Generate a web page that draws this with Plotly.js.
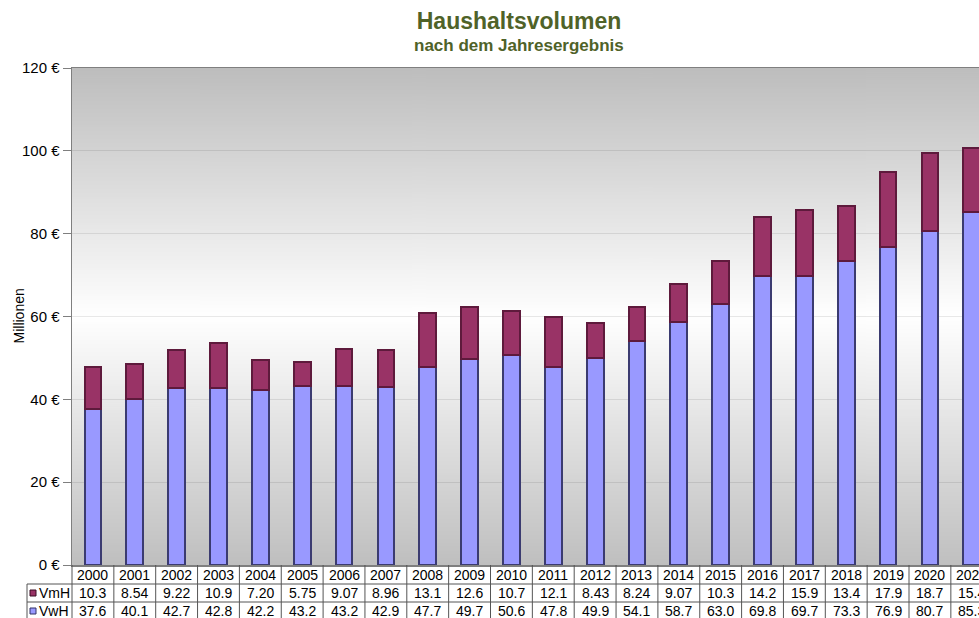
<!DOCTYPE html>
<html>
<head>
<meta charset="utf-8">
<script src="https://cdn.plot.ly/plotly-3.0.1.min.js"></script>
<style>
html,body{margin:0;padding:0;overflow:hidden;background:#fff;}
#chart{width:979px;height:618px;}
</style>
</head>
<body>
<div id="chart"></div>
<script>
// ---- data ----
var years = ['2000','2001','2002','2003','2004','2005','2006','2007','2008','2009','2010',
             '2011','2012','2013','2014','2015','2016','2017','2018','2019','2020','2021'];
var vwh = [37.6,40.1,42.7,42.8,42.2,43.2,43.2,42.9,47.7,49.7,50.6,
           47.8,49.9,54.1,58.7,63.0,69.8,69.7,73.3,76.9,80.7,85.3];
var vmh = [10.3,8.54,9.22,10.9,7.20,5.75,9.07,8.96,13.1,12.6,10.7,
           12.1,8.43,8.24,9.07,10.3,14.2,15.9,13.4,17.9,18.7,15.4];
var seriesNames = ['VmH','VwH'];
var yTicks = [0,20,40,60,80,100,120];

// ---- layout geometry ----
var W = 979, H = 618;
var L = 72, T = 68, B = 53;
var plotW = W - L, plotH = H - T - B;
var pitch = 41.85;
var xr0 = -0.5, xr1 = -0.5 + plotW / pitch;
function px2x(px){ return (px - L) / plotW; }
function py2y(py){ return (H - B - py) / plotH; }
function cat2paper(v){ return (v - xr0) / (xr1 - xr0); }

// background gradient image
var cv = document.createElement('canvas');
cv.width = 4; cv.height = 500;
var ctx = cv.getContext('2d');
var g = ctx.createLinearGradient(0,0,0,500);
g.addColorStop(0,'#bdbdbd');
g.addColorStop(0.5,'#ffffff');
g.addColorStop(1,'#bfbfbf');
ctx.fillStyle = g; ctx.fillRect(0,0,4,500);
var bgURL = cv.toDataURL();

var traces = [
  {type:'bar', name:seriesNames[1], x:years, y:vwh, width:0.4,
   marker:{color:'#9999FF', line:{color:'#3b3b70', width:2}}, hoverinfo:'x+y'},
  {type:'bar', name:seriesNames[0], x:years, y:vmh, width:0.4,
   marker:{color:'#993366', line:{color:'#5e1a3c', width:2}}, hoverinfo:'x+y'}
];

var font = 'Liberation Sans, Arial, sans-serif';
var shapes = [], annotations = [];
var lineCol = '#555555';

// table rows (pixel y)
var rowTop = H - B, r1 = 584, r2 = 602, rBot = 625;
[r1, r2].forEach(function(py){
  shapes.push({type:'line', xref:'paper', yref:'paper', x0:px2x(27), x1:px2x(W+5), y0:py2y(py), y1:py2y(py),
               line:{color:lineCol, width:1}});
});
for (var i = -1; i < years.length; i++) {
  var xp = cat2paper(i + 0.5);
  if (xp > 1.05) continue;
  shapes.push({type:'line', xref:'paper', yref:'paper', x0:xp, x1:xp, y0:py2y(rowTop), y1:py2y(rBot),
               line:{color:lineCol, width:1}});
}
shapes.push({type:'line', xref:'paper', yref:'paper', x0:px2x(27), x1:px2x(27), y0:py2y(r1), y1:py2y(rBot),
             line:{color:lineCol, width:1}});
// legend keys
shapes.push({type:'rect', xref:'paper', yref:'paper', x0:px2x(30), x1:px2x(36), y0:py2y(590), y1:py2y(596),
             fillcolor:'#993366', line:{color:'#3a0f25', width:1}});
shapes.push({type:'rect', xref:'paper', yref:'paper', x0:px2x(30), x1:px2x(36), y0:py2y(608), y1:py2y(614),
             fillcolor:'#9999FF', line:{color:'#333366', width:1}});

var tf = {family:font, size:14, color:'#000'};
var yRow0 = 574.5, yRow1 = 592.5, yRow2 = 610.5;
annotations.push({xref:'paper', yref:'paper', x:px2x(37), y:py2y(yRow1), xanchor:'left', yanchor:'middle',
                  text:seriesNames[0], showarrow:false, font:tf});
annotations.push({xref:'paper', yref:'paper', x:px2x(37), y:py2y(yRow2), xanchor:'left', yanchor:'middle',
                  text:seriesNames[1], showarrow:false, font:tf});
for (var j = 0; j < years.length; j++) {
  var xc = cat2paper(j);
  annotations.push({xref:'paper', yref:'paper', x:xc, y:py2y(yRow0), yanchor:'middle', xanchor:'center',
                    text:years[j], showarrow:false, font:tf});
  annotations.push({xref:'paper', yref:'paper', x:xc, y:py2y(yRow1), yanchor:'middle', xanchor:'center',
                    text:vmh[j].toPrecision(3), showarrow:false, font:tf});
  annotations.push({xref:'paper', yref:'paper', x:xc, y:py2y(yRow2), yanchor:'middle', xanchor:'center',
                    text:vwh[j].toPrecision(3), showarrow:false, font:tf});
}
// subtitle
annotations.push({xref:'paper', yref:'paper', x:px2x(519), y:py2y(45), xanchor:'center', yanchor:'middle',
                  text:'<b>nach dem Jahresergebnis</b>', showarrow:false,
                  font:{family:font, size:17, color:'#4F6228'}});
// y-axis title
annotations.push({xref:'paper', yref:'paper', x:px2x(18), y:0.5, xanchor:'center', yanchor:'middle',
                  text:'Millionen', textangle:-90, showarrow:false,
                  font:{family:font, size:14, color:'#000'}});

var layout = {
  width:W, height:H,
  margin:{l:L, r:0, t:T, b:B, pad:0},
  paper_bgcolor:'#ffffff',
  plot_bgcolor:'rgba(0,0,0,0)',
  barmode:'stack',
  showlegend:false,
  title:{text:'<b>Haushaltsvolumen</b>', x:519/W, xanchor:'center', xref:'container',
         y:1 - 21/H, yanchor:'middle', yref:'container',
         font:{family:font, size:23, color:'#4F6228'}},
  xaxis:{type:'category', range:[xr0, xr1], showticklabels:false, ticks:'',
         showgrid:false, showline:true, mirror:true, linecolor:'#7f7f7f', linewidth:1.5, zeroline:false,
         fixedrange:true},
  yaxis:{range:[0,120], tickvals:yTicks, ticktext:yTicks.map(function(v){return v + ' €';}),
         ticks:'outside', ticklen:8, tickcolor:'#7f7f7f', tickfont:{family:font, size:15, color:'#000'},
         showline:true, linecolor:'#7f7f7f', linewidth:1.5, zeroline:false,
         showgrid:true, gridcolor:'rgba(0,0,0,0.09)', gridwidth:1,
         fixedrange:true},
  images:[{source:bgURL, xref:'paper', yref:'paper', x:0, y:1, sizex:1, sizey:1,
           sizing:'stretch', xanchor:'left', yanchor:'top', layer:'below'}],
  shapes:shapes,
  annotations:annotations
};

Plotly.newPlot('chart', traces, layout, {displayModeBar:false, staticPlot:true});
</script>
</body>
</html>
